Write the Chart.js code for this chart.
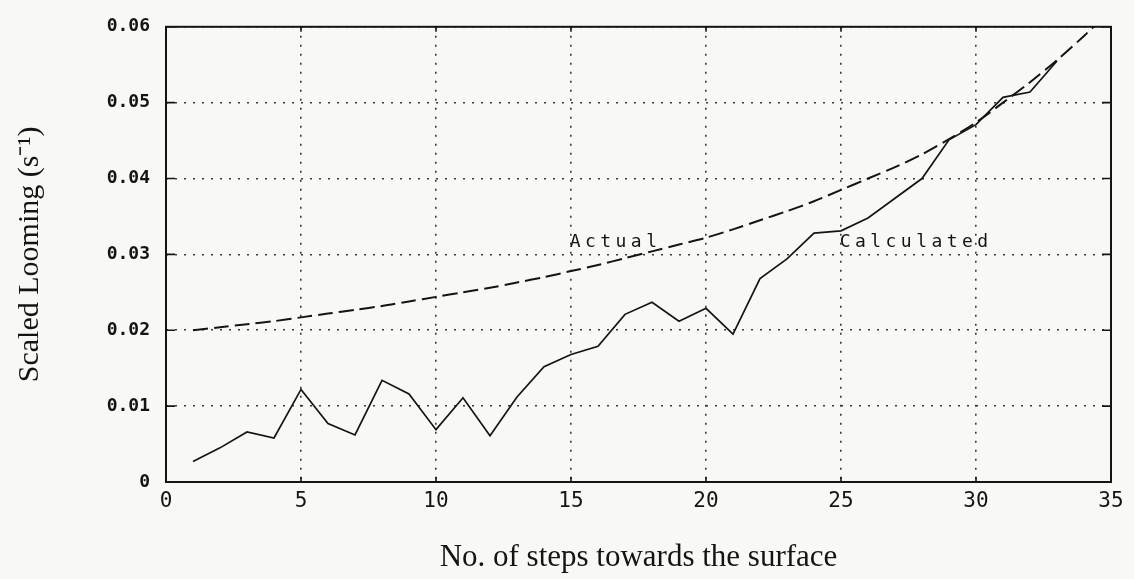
<!DOCTYPE html>
<html>
<head>
<meta charset="utf-8">
<script src="https://cdn.jsdelivr.net/npm/chart.js@4.4.1/dist/chart.umd.min.js"></script>
<style>
  html, body { margin: 0; padding: 0; background: #f8f8f4; }
  #wrap { width: 1134px; height: 579px; position: relative; }
</style>
</head>
<body>
<div id="wrap"><canvas id="c" width="1134" height="579"></canvas></div>
<script>
// ---- data ----
const calcSteps = [1,2,3,4,5,6,7,8,9,10,11,12,13,14,15,16,17,18,19,20,21,22,23,24,25,26,27,28,29,30,31,32,33];
const calcValues = [0.0027,0.0045,0.0066,0.0058,0.0122,0.0077,0.0062,0.0134,0.0116,0.0069,0.0111,0.0061,0.0112,0.0152,0.0168,0.0179,0.0221,0.0237,0.0212,0.0229,0.0195,0.0268,0.0294,0.0328,0.0331,0.0348,0.0374,0.0400,0.0451,0.0471,0.0507,0.0514,0.0555];
const actualSteps = [1,2,3,4,5,6,7,8,9,10,11,12,13,14,15,16,17,18,19,20,21,22,23,24,25,26,27,28,29,30,31,32,33,34,35];
const actualValues = [0.0200,0.0204,0.0208,0.0212,0.0217,0.0222,0.0227,0.0232,0.0238,0.0244,0.0250,0.0256,0.0263,0.0270,0.0278,0.0286,0.0295,0.0304,0.0313,0.0322,0.0333,0.0345,0.0357,0.0370,0.0385,0.0400,0.0415,0.0432,0.0452,0.0474,0.0500,0.0527,0.0556,0.0588,0.0622];
const xTicks = [0,5,10,15,20,25,30,35];
const yTicks = [0,0.01,0.02,0.03,0.04,0.05,0.06];
const seriesLabels = ['Calculated','Actual'];
const xTitle = 'No. of steps towards the surface';
const yTitle = 'Scaled Looming (s\u207B\u00B9)';
// in-plot text labels (anchored in data coordinates)
const textLabels = [
  { text: 'Actual', x: 14.95, y: 0.0316 },
  { text: 'Calculated', x: 24.95, y: 0.0316 }
];

const INK = '#141414';

const framePlugin = {
  id: 'frame',
  afterDatasetsDraw(chart) {
    const { ctx, chartArea: a, scales: { x, y } } = chart;
    ctx.save();
    ctx.setLineDash([]);
    ctx.strokeStyle = INK;
    ctx.lineWidth = 2;
    ctx.strokeRect(a.left, a.top, a.right - a.left, a.bottom - a.top);
    ctx.lineWidth = 1.6;
    ctx.beginPath();
    y.ticks.forEach(t => {
      const py = y.getPixelForValue(t.value);
      ctx.moveTo(a.left, py); ctx.lineTo(a.left + 9, py);
      ctx.moveTo(a.right - 9, py); ctx.lineTo(a.right, py);
    });
    x.ticks.forEach(t => {
      const px = x.getPixelForValue(t.value);
      ctx.moveTo(px, a.bottom); ctx.lineTo(px, a.bottom - 5);
      ctx.moveTo(px, a.top); ctx.lineTo(px, a.top + 5);
    });
    ctx.stroke();
    // in-plot labels, monospace with wide spacing
    ctx.fillStyle = INK;
    ctx.font = '18px "DejaVu Sans Mono"';
    ctx.textBaseline = 'middle';
    ctx.textAlign = 'left';
    const adv = 15.3;
    textLabels.forEach(l => {
      const px = x.getPixelForValue(l.x);
      const py = y.getPixelForValue(l.y);
      [...l.text].forEach((ch, i) => ctx.fillText(ch, px + i * adv, py));
    });
    ctx.restore();
  }
};

const LAYOUT_LEFT = 12, LAYOUT_BOTTOM = 3;

new Chart(document.getElementById('c'), {
  type: 'line',
  data: {
    datasets: [
      {
        label: seriesLabels[0],
        data: calcSteps.map((s, i) => ({ x: s, y: calcValues[i] })),
        borderColor: INK,
        borderWidth: 1.7,
        pointRadius: 0,
        tension: 0,
        fill: false
      },
      {
        label: seriesLabels[1],
        data: actualSteps.map((s, i) => ({ x: s, y: actualValues[i] })),
        borderColor: INK,
        borderWidth: 2,
        borderDash: [15, 6],
        pointRadius: 0,
        tension: 0.3,
        fill: false
      }
    ]
  },
  options: {
    responsive: false,
    animation: false,
    devicePixelRatio: 1,
    layout: { padding: { left: LAYOUT_LEFT, right: 23, top: 18, bottom: LAYOUT_BOTTOM } },
    plugins: { legend: { display: false }, tooltip: { enabled: false } },
    scales: {
      x: {
        type: 'linear',
        min: 0, max: 35,
        afterBuildTicks: (s) => { s.ticks = xTicks.map(v => ({ value: v })); },
        afterFit: (s) => { s.height = 579 - 482 - LAYOUT_BOTTOM; },
        ticks: {
          color: INK,
          padding: 7,
          maxRotation: 0,
          font: { family: '"DejaVu Sans Mono"', size: 21 },
          callback: (v) => String(v)
        },
        grid: { color: '#3a3a3a', lineWidth: 1.6, drawTicks: false },
        border: { display: false, dash: [2, 7] },
        title: {
          display: true,
          text: xTitle,
          color: INK,
          font: { family: '"Liberation Serif"', size: 31 },
          padding: { top: 20, bottom: 0 }
        }
      },
      y: {
        type: 'linear',
        min: 0, max: 0.06,
        afterBuildTicks: (s) => { s.ticks = yTicks.map(v => ({ value: v })); },
        afterFit: (s) => { s.width = 166 - LAYOUT_LEFT; },
        ticks: {
          color: INK,
          padding: 16,
          font: { family: '"DejaVu Sans Mono"', size: 18, weight: 'bold' },
          callback: (v) => (v === 0 ? '0' : v.toFixed(2))
        },
        grid: { color: '#3a3a3a', lineWidth: 1.6, drawTicks: false },
        border: { display: false, dash: [2, 7] },
        title: {
          display: true,
          text: yTitle,
          color: INK,
          font: { family: '"Liberation Serif"', size: 30 },
          padding: { top: 0, bottom: 10 }
        }
      }
    }
  },
  plugins: [framePlugin]
});
</script>
</body>
</html>
